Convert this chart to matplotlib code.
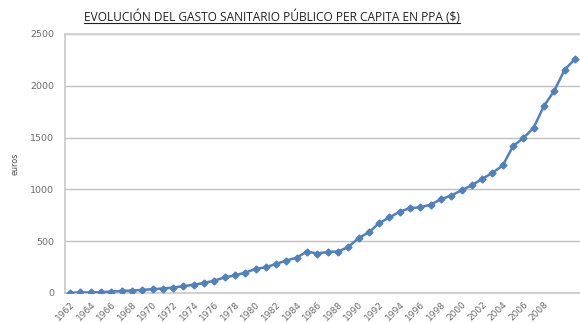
import matplotlib
matplotlib.use("Agg")
import matplotlib.pyplot as plt
from matplotlib.lines import Line2D

years = list(range(1962, 2012))
gasto = [3, 5, 6, 8, 14, 20, 24, 30, 37, 43,
         53, 66, 80, 97, 120, 150, 170, 197, 232, 249,
         281, 313, 342, 400, 381, 397, 400, 443, 530, 585,
         675, 730, 785, 820, 827, 853, 905, 940, 992, 1040,
         1101, 1160, 1231, 1418, 1495, 1596, 1805, 1951, 2154, 2258]
tick_years = list(range(1962, 2009, 2))
y_ticks = [0, 500, 1000, 1500, 2000, 2500]
title = "EVOLUCIÓN DEL GASTO SANITARIO PÚBLICO PER CAPITA EN PPA ($)"

fig = plt.figure(figsize=(5.8, 3.23), dpi=100)
ax = fig.add_axes([65 / 580, 30 / 323, 515 / 580, 259 / 323])

ax.plot(years, gasto, color="#4F81BD", linewidth=1.8, marker="D",
        markersize=3.5, markerfacecolor="#4F81BD", markeredgecolor="#4F81BD",
        zorder=3)

ax.set_xlim(1961.5, 2011.5)
ax.set_ylim(0, 2500)
ax.set_yticks(y_ticks)
ax.set_yticklabels([str(v) for v in y_ticks], fontsize=6.8, color="#6A6A6A")
ax.set_xticks(tick_years)
ax.set_xticklabels([str(y) for y in tick_years], fontsize=6.5, color="#6A6A6A",
                   rotation=45, ha="right", va="top", rotation_mode="anchor")
ax.tick_params(axis="x", length=0, pad=5)
ax.tick_params(axis="y", length=0, pad=8)

ax.grid(axis="y", color="#BFBFBF", linewidth=1.0)
ax.set_axisbelow(True)
for side in ["top", "right"]:
    ax.spines[side].set_visible(False)
ax.spines["left"].set_color("#C8C8C8")
ax.spines["left"].set_linewidth(1.2)
ax.spines["bottom"].set_color("#C8C8C8")
ax.spines["bottom"].set_linewidth(1.2)
ax.axhline(2500, color="#D0D0D0", linewidth=1.2, clip_on=False)

ax.set_ylabel("euros", fontsize=5.8, color="#505050")
ax.yaxis.set_label_coords(-46 / 515, 0.5)

t = fig.text(272 / 580, 1 - 17 / 323, title, ha="center", va="center",
             fontsize=8.6, family="Open Sans", color="#202020")
fig.canvas.draw()
bb = t.get_window_extent()
inv = fig.transFigure.inverted()
(x0, y0), (x1, y1) = inv.transform([[bb.x0, bb.y0], [bb.x1, bb.y1]])
fig.add_artist(Line2D([x0, x1], [y0 + 0.004, y0 + 0.004], color="#202020",
                      linewidth=0.8, transform=fig.transFigure))

fig.savefig("out.png", dpi=100)
